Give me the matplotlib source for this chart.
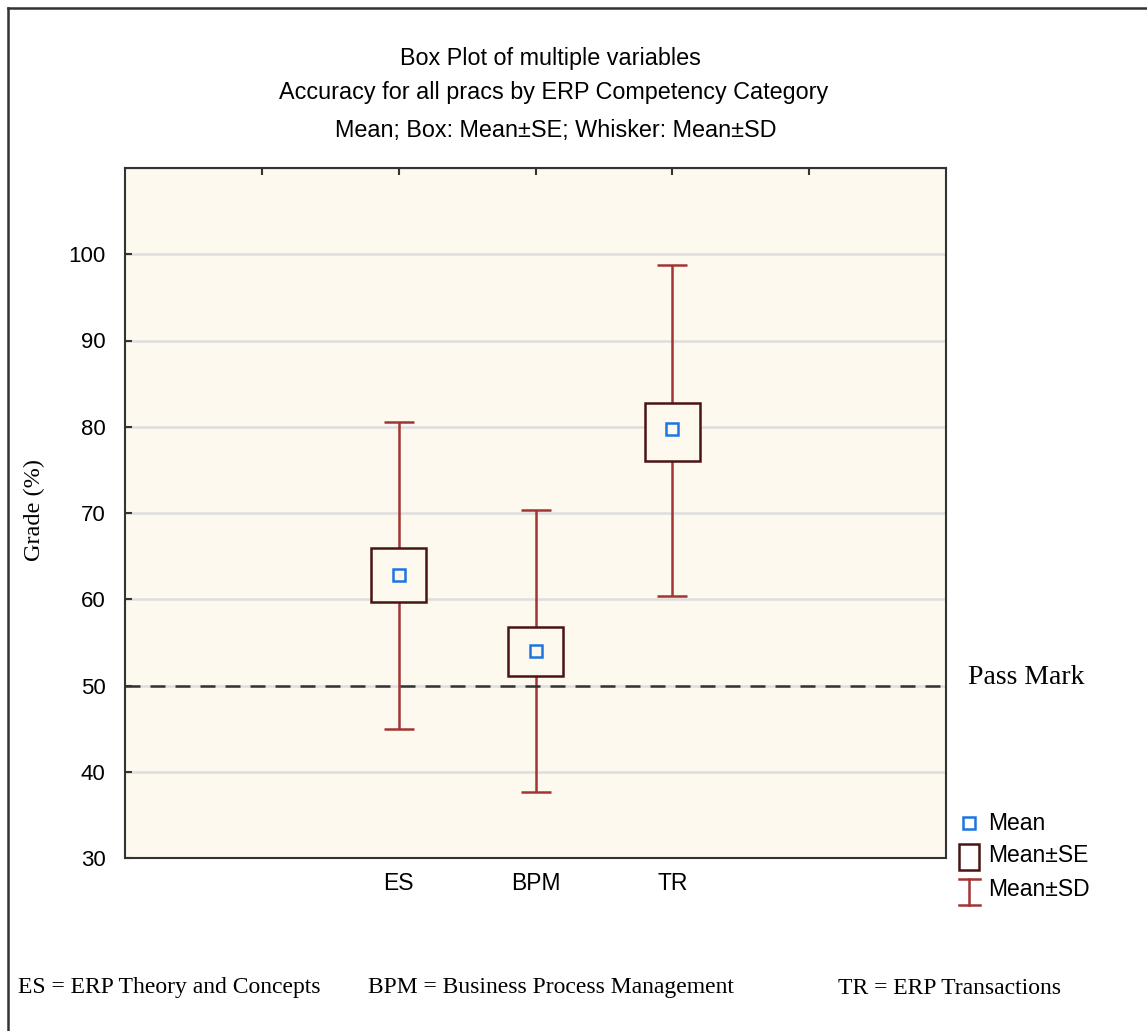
import numpy as np
import matplotlib.pyplot as plt
from matplotlib.lines import Line2D
from matplotlib.patches import Rectangle

# -------------------------------
# Datos
# -------------------------------
categories = ["ES", "BPM", "TR"]
means = [62.8, 53.95, 79.75]
se_low = [59.65, 51.15, 76.05]
se_high = [65.9, 56.75, 82.8]
sd_low = [45.0, 37.7, 60.35]
sd_high = [80.55, 70.35, 98.7]
pass_mark = 50
yticks = [30, 40, 50, 60, 70, 80, 90, 100]
footnotes = ["ES = ERP Theory and Concepts",
             "BPM = Business Process Management",
             "TR = ERP Transactions"]

W, H = 1147, 1031
BG = "#fdf9ee"
RED = "#a33434"
DARK = "#4a1414"
BLUE = "#1f74e0"

def fx(px):
    return px / W

def fy(py):
    return 1 - py / H

plt.rcParams['font.family'] = ['Liberation Sans', 'DejaVu Sans']

fig = plt.figure(figsize=(W / 100, H / 100), dpi=100)
fig.patch.set_facecolor("white")

# marco exterior
fig.add_artist(Line2D([fx(8), fx(8)], [-0.01, fy(8)], color="#333333", lw=1.8))
fig.add_artist(Line2D([fx(8), 1.01], [fy(8), fy(8)], color="#333333", lw=1.8))

ax = fig.add_axes([fx(125), fy(858), fx(946) - fx(125), fy(168) - fy(858)])
ax.set_facecolor(BG)

x = np.arange(1, len(categories) + 1)
means = np.array(means)
se_low, se_high = np.array(se_low), np.array(se_high)
sd_low, sd_high = np.array(sd_low), np.array(sd_high)

# líneas de cuadrícula
for t in yticks[1:]:
    ax.axhline(t, color="#dedede", lw=1.8, zorder=0)

# Whisker: Mean±SD
ax.errorbar(x, means, yerr=[means - sd_low, sd_high - means], fmt="none",
            ecolor=RED, elinewidth=1.8, capsize=10.5, capthick=1.8, zorder=2)

# Pass mark
ax.axhline(pass_mark, color="#333333", lw=1.8, dashes=(6, 4), zorder=3)

# Box: Mean±SE
ax.bar(x, se_high - se_low, bottom=se_low, width=0.4, color=BG,
       edgecolor=DARK, linewidth=1.8, zorder=4)

# Mean
ax.plot(x, means, "s", ms=8, mfc=BG, mec=BLUE, mew=1.8, zorder=5)

ax.set_xlim(-1, 5)
ax.set_ylim(30, 110)
ax.set_yticks(yticks)
ax.set_yticklabels([str(t) for t in yticks], fontsize=16)
ax.set_xticks(x)
ax.set_xticklabels(categories, fontsize=16.5)
ax.tick_params(axis="x", length=0, pad=10)
ax.tick_params(axis="y", direction="in", length=5, width=1.5, pad=14, color="#333333")
for s in ax.spines.values():
    s.set_color("#333333")
    s.set_linewidth(1.5)

# marcas superiores
ax_top = ax.secondary_xaxis("top")
ax_top.set_xticks([0, 1, 2, 3, 4])
ax_top.set_xticklabels([])
ax_top.tick_params(direction="in", length=5, width=1.5, color="#333333")

ax.set_ylabel("Grade (%)", family=["Liberation Serif"], fontsize=17.5)
ax.yaxis.set_label_coords(-(125 - 45) / 821, (858 - 510) / 690)

# Títulos
fig.text(fx(550), fy(58), "Box Plot of multiple variables", ha="center", va="center", fontsize=16.8)
fig.text(fx(554), fy(93), "Accuracy for all pracs by ERP Competency Category", ha="center", va="center", fontsize=16.8)
fig.text(fx(556), fy(130), "Mean; Box: Mean\u00b1SE; Whisker: Mean\u00b1SD", ha="center", va="center", fontsize=16.8)

fig.text(fx(968), fy(677), "Pass Mark", ha="left", va="center", fontsize=20,
         family=["Liberation Serif"])

# Leyenda
fig.add_artist(Line2D([fx(969)], [fy(823)], marker="s", ms=8, mfc="white", mec=BLUE, mew=1.8))
fig.add_artist(Rectangle((fx(959), fy(870)), fx(20), 26 / H, facecolor="white",
                         edgecolor=DARK, lw=1.8, transform=fig.transFigure))
fig.add_artist(Line2D([fx(969), fx(969)], [fy(879), fy(905)], color=RED, lw=1.8))
fig.add_artist(Line2D([fx(959), fx(980)], [fy(879), fy(879)], color=RED, lw=1.8))
fig.add_artist(Line2D([fx(959), fx(980)], [fy(905), fy(905)], color=RED, lw=1.8))
for label, py in zip(["Mean", "Mean\u00b1SE", "Mean\u00b1SD"], [823, 856, 889]):
    fig.text(fx(988), fy(py), label, ha="left", va="center", fontsize=16.5)

# Notas al pie
for txt, px in zip(footnotes, [18, 368, 838]):
    fig.text(fx(px), fy(988), txt, ha="left", va="center", fontsize=17,
             family=["Liberation Serif"])

fig.savefig("out.png", dpi=100)
plt.close()
